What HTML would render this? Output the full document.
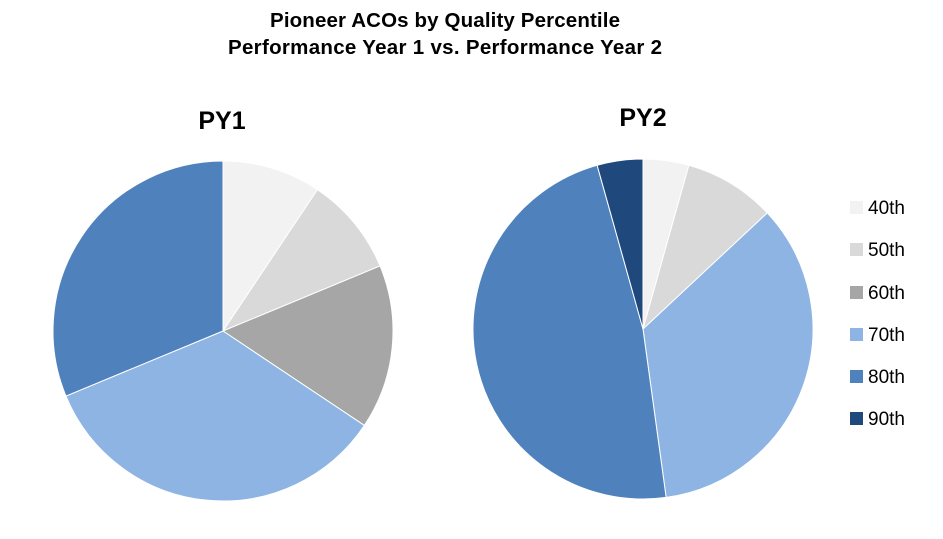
<!DOCTYPE html>
<html><head><meta charset="utf-8"><style>
body{margin:0;background:#fff;}
svg{display:block;font-family:"Liberation Sans",Calibri,sans-serif;}
</style></head><body>
<svg id="chart" width="943" height="539">
<text x="445" y="27" text-anchor="middle" font-size="20.5" font-weight="bold" fill="#000" textLength="350">Pioneer ACOs by Quality Percentile</text>
<text x="445" y="54" text-anchor="middle" font-size="20.5" font-weight="bold" fill="#000" textLength="434">Performance Year 1 vs. Performance Year 2</text>
<text x="222" y="129" text-anchor="middle" font-size="25" font-weight="bold">PY1</text>
<text x="643" y="126" text-anchor="middle" font-size="25" font-weight="bold">PY2</text>
<g id="pies"></g>
<g id="legend"></g>
</svg>
<script>
const categories=["40th","50th","60th","70th","80th","90th"];
const py1Values=[3,3,5,11,10,0];
const py2Values=[1,2,0,8,11,1];
const colors=["#f2f2f2","#d9d9d9","#a6a6a6","#8eb4e3","#4f81bd","#1f497d"];
const NS="http://www.w3.org/2000/svg";
function drawPie(vals,cx,cy,r,name){
  const g=document.getElementById('pies');
  const total=vals.reduce((a,b)=>a+b,0);
  let a0=0;
  vals.forEach((v,i)=>{
    if(v<=0)return;
    const a1=a0+v/total*2*Math.PI;
    const x0=cx+r*Math.sin(a0),y0=cy-r*Math.cos(a0);
    const x1=cx+r*Math.sin(a1),y1=cy-r*Math.cos(a1);
    const p=document.createElementNS(NS,'path');
    p.setAttribute('d',`M${cx},${cy}L${x0},${y0}A${r},${r} 0 ${a1-a0>Math.PI?1:0} 1 ${x1},${y1}Z`);
    p.setAttribute('fill',colors[i]);
    p.setAttribute('stroke','#fff');
    p.setAttribute('stroke-width','1');
    
    
    g.appendChild(p);
    a0=a1;
  });
}
drawPie(py1Values,223,331,170,'py1');
drawPie(py2Values,643,329,170,'py2');
const lg=document.getElementById('legend');
const rowsY=[207,249,292,334,376,418];
categories.forEach((c,i)=>{
  const r=document.createElementNS(NS,'rect');
  r.setAttribute('x',850);r.setAttribute('y',rowsY[i]-6);
  r.setAttribute('width',13);r.setAttribute('height',13);
  r.setAttribute('fill',colors[i]);
  
  
  lg.appendChild(r);
  const t=document.createElementNS(NS,'text');
  t.setAttribute('x',868);t.setAttribute('y',rowsY[i]+7);
  t.setAttribute('font-size','19');t.setAttribute('fill','#000');
  t.textContent=c;
  
  
  lg.appendChild(t);
});
</script>
</body></html>
